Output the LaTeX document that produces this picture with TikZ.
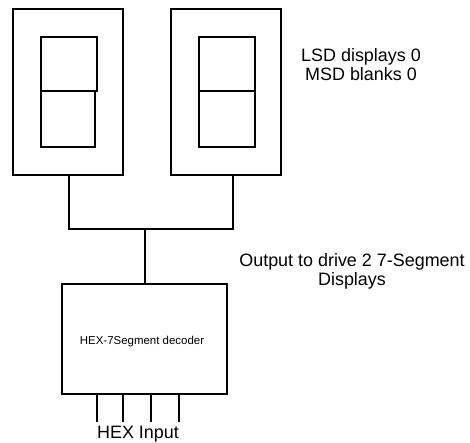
\documentclass[tikz,border=0pt]{standalone}
\usepackage{fontspec}
\setmainfont{Liberation Sans}
\begin{document}
\begin{tikzpicture}[x=1bp,y=-1bp,
  outerbox/.style={draw, line width=2bp, inner sep=0pt, minimum width=110bp, minimum height=166bp},
  segbox/.style={draw, line width=1.8bp, inner sep=0pt},
  wire/.style={line width=2bp},
  biglbl/.style={inner sep=0pt, align=center, font=\fontsize{18}{18.7}\selectfont},
  smalllbl/.style={inner sep=0pt, font=\fontsize{11.5}{13}\selectfont}]
\useasboundingbox (0,0) rectangle (470,443);
% display housings
\node[outerbox] (lbox) at (68,92) {};
\node[outerbox] (rbox) at (226,92) {};
% segments
\node[segbox, minimum width=56bp, minimum height=54bp] (ltop) at (69,64) {};
\node[segbox, minimum width=54bp, minimum height=56bp] (lbot) at (68,119) {};
\node[segbox, minimum width=56bp, minimum height=54bp] (rtop) at (227,64) {};
\node[segbox, minimum width=56bp, minimum height=56bp] (rbot) at (227,119) {};
% decoder
\node[draw, line width=2bp, inner sep=0pt, minimum width=165bp, minimum height=110bp] (dec) at (144.5,339) {};
\node[smalllbl, anchor=base] (declbl) at (142,344) {HEX-7Segment decoder};
% bus
\coordinate (bus) at (145,229);
\draw[wire] ([xshift=1bp]lbox.south) |- (bus);
\draw[wire] ([xshift=7bp]rbox.south) |- (bus);
\draw[wire] (bus) -- (bus |- dec.north);
% inputs
\coordinate (in1) at (96.7,422);
\coordinate (in2) at (122.7,422);
\coordinate (in3) at (151,422);
\coordinate (in4) at (178.7,422);
\foreach \i in {in1,in2,in3,in4} \draw[wire] (\i |- dec.south) -- (\i);
% labels
\node[biglbl] (lsd) at (361,64.4) {LSD displays 0\\MSD blanks 0};
\node[biglbl] (out) at (352,271.6) {Output to drive 2 7-Segment\\Displays};
\node[biglbl, anchor=base] (hex) at (138,438.6) {HEX Input};
\end{tikzpicture}
\end{document}
